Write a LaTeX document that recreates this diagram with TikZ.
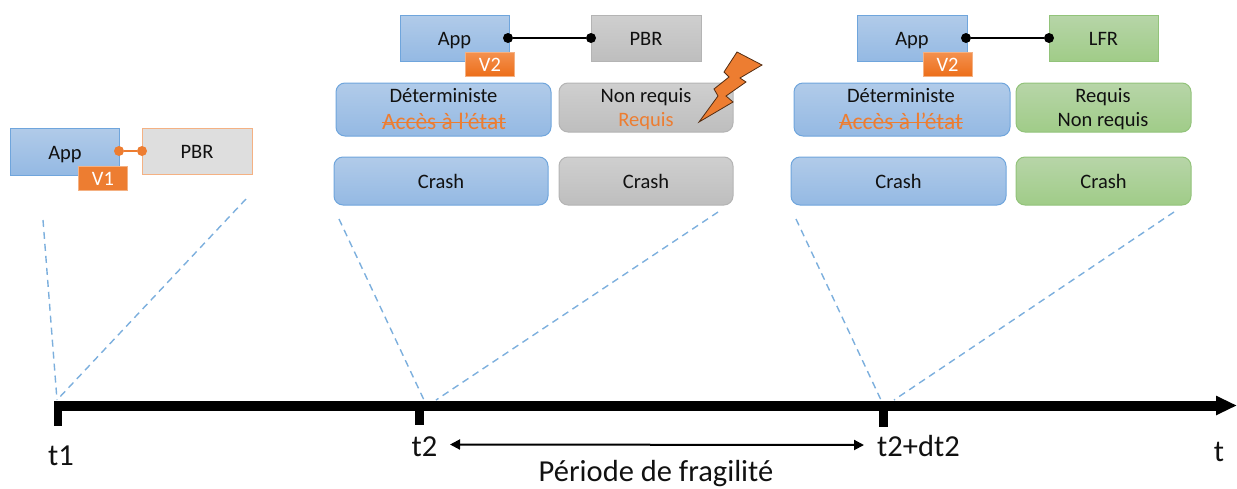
\documentclass[tikz,border=0pt]{standalone}
\usepackage{fontspec}
\setmainfont{Carlito}
\usetikzlibrary{arrows.meta}
\definecolor{bluetop}{HTML}{B1CBE9}
\definecolor{bluebot}{HTML}{94B9E3}
\definecolor{blueline}{HTML}{6FA5DC}
\definecolor{greytop}{HTML}{CFCFCF}
\definecolor{greybot}{HTML}{BEBEBE}
\definecolor{greyline}{HTML}{B4B4B4}
\definecolor{greentop}{HTML}{B7D5A8}
\definecolor{greenbot}{HTML}{A0CC88}
\definecolor{greenline}{HTML}{92C37A}
\definecolor{orangec}{HTML}{ED7D31}
\definecolor{orangetop}{HTML}{F4914F}
\definecolor{orangebot}{HTML}{EC6F1B}
\definecolor{orangeedge}{HTML}{F4B183}
\definecolor{txt}{HTML}{111111}
\definecolor{dashblue}{HTML}{5B9BD5}
\newcommand{\strikeorange}[1]{\begingroup\setbox0=\hbox{#1}\rlap{\rule[0.25em]{\wd0}{1.4pt}}\box0\endgroup}
\tikzset{
  x=1pt,y=-1pt,
  every node/.style={font=\fontsize{20.5}{24}\selectfont,text=txt,inner sep=0pt,outer sep=0pt},
  sized/.style n args={2}{minimum width=#1,minimum height=#2},
  label box/.style={text height=16.4pt,text depth=1.1pt},
  bluebox/.style={label box,draw=blueline,line width=1pt,top color=bluetop,bottom color=bluebot},
  greybox/.style={label box,draw=greyline,line width=1pt,top color=greytop,bottom color=greybot},
  greenbox/.style={label box,draw=greenline,line width=1pt,top color=greentop,bottom color=greenbot},
  rnd/.style={rounded corners=9pt},
  vtag/.style={label box,draw=orangeedge,line width=1pt,top color=orangetop,bottom color=orangebot,text=white,sized={49pt}{24pt}},
  dot/.style={circle,fill=black,minimum size=10pt},
  odot/.style={circle,fill=orangec,minimum size=10pt},
  link/.style={line width=1.3pt,draw=black},
  projection/.style={draw=dashblue,line width=1.4pt,dash pattern=on 7pt off 5pt,opacity=.8},
  tick/.style={fill=black,draw=none,inner sep=0pt},
  big/.style={font=\fontsize{30.5}{34}\selectfont,anchor=base},
  line1/.style={anchor=base},
  strucktext/.style={anchor=base,text=orangec,font=\fontsize{23.5}{26}\selectfont},
}
\begin{document}
\begin{tikzpicture}
\useasboundingbox (0,0) rectangle (1237,488);

% timeline
\coordinate (axisstart) at (54,405.5);
\coordinate (axisend) at (1237,405.5);
\draw[line width=10pt,-{Triangle[length=21pt,width=18pt]}] (axisstart) -- (axisend);
\node[tick,sized={8.5pt}{25pt}] (tick1) at (58,413.5) {};
\node[tick,sized={9pt}{24pt}] (tick2) at (419.5,413) {};
\node[tick,sized={9pt}{26pt}] (tick3) at (883.5,414) {};

% projection anchors
\coordinate (p1a) at (43,220);
\coordinate (p1b) at (246,199);
\coordinate (p1c) at (57,400);
\coordinate (p2a) at (339,219);
\coordinate (p2b) at (718,212);
\coordinate (p2c) at (424,400);
\coordinate (p2d) at (436,400);
\coordinate (p3a) at (796,219);
\coordinate (p3b) at (1174,212);
\coordinate (p3c) at (881,400);
\coordinate (p3d) at (894,400);
\draw[projection] (p1a) -- (p1c);
\draw[projection] (p1b) -- (p1c);
\draw[projection] (p2a) -- (p2c);
\draw[projection] (p2b) -- (p2d);
\draw[projection] (p3a) -- (p3c);
\draw[projection] (p3b) -- (p3d);

% state t1
\node[bluebox,sized={109.5pt}{47pt}] (app1) at (65,151.5) {App};
\node[label box,draw=orangeedge,line width=1pt,fill=black!13!white,sized={110pt}{46pt}] (pbr1) at (197,151) {PBR};
\node[odot] (d1a) at (119,151) {};
\node[odot] (d1b) at (142,151) {};
\draw[line width=1.3pt,draw=orangec] (d1a) -- (d1b);
\node[vtag,top color=orangec,bottom color=orangec] (v1) at (103,178) {V1};

% state t2
\node[bluebox,sized={109pt}{46pt}] (app2) at (454.5,38) {App};
\node[greybox,sized={110pt}{46pt}] (pbr2) at (646,38) {PBR};
\node[dot] (d2a) at (508,38) {};
\node[dot] (d2b) at (591,38) {};
\draw[link] (d2a) -- (d2b);
\node[vtag] (v2) at (490,64) {V2};
\node[bluebox,rnd,sized={215pt}{53pt}] (det2) at (443.5,109.5) {};
\node[line1] (det2a) at (443.5,102.5) {Déterministe};
\node[strucktext] (det2b) at (444,129) {\strikeorange{Accès à l’état}};
\node[greybox,rnd,sized={174pt}{49pt}] (req2) at (646,107.5) {};
\node[line1] (req2a) at (646,102.5) {Non requis};
\node[line1,text=orangec] (req2b) at (646,126) {Requis};
\node[bluebox,rnd,sized={214pt}{48pt}] (crash2a) at (441,181) {Crash};
\node[greybox,rnd,sized={174pt}{48pt}] (crash2b) at (646,181) {Crash};

% state t2+dt2
\node[bluebox,sized={110pt}{46pt}] (app3) at (912,38) {App};
\node[greenbox,sized={109pt}{46pt}] (lfr3) at (1103.5,38) {LFR};
\node[dot] (d3a) at (966,38) {};
\node[dot] (d3b) at (1049,38) {};
\draw[link] (d3a) -- (d3b);
\node[vtag] (v3) at (947.5,64) {V2};
\node[bluebox,rnd,sized={216pt}{53pt}] (det3) at (902,109.5) {};
\node[line1] (det3a) at (901,102.5) {Déterministe};
\node[strucktext] (det3b) at (901,129) {\strikeorange{Accès à l’état}};
\node[greenbox,rnd,sized={175pt}{49pt}] (req3) at (1103.5,107.5) {};
\node[line1] (req3a) at (1103,102.5) {Requis};
\node[line1] (req3b) at (1103,126.5) {Non requis};
\node[bluebox,rnd,sized={215pt}{48pt}] (crash3a) at (898.5,181) {Crash};
\node[greenbox,rnd,sized={175pt}{48pt}] (crash3b) at (1103.5,181) {Crash};

% lightning
\draw[fill=orangec,draw=black!65!orangec,line width=.8pt,line join=miter]
  (737,52) -- (762,65) -- (740,78) -- (746,82) -- (726,96) -- (733,102) -- (699,122)
  -- (718,96) -- (714,89) -- (729,77) -- (724,72) -- cycle;

% labels
\node[big] (l1) at (61,465) {t1};
\node[big] (l2) at (424.5,456) {t2};
\node[big] (l3) at (918.5,456) {t2+dt2};
\node[big] (l4) at (1219,461) {t};
\node[big] (l5) at (656,481) {Période de fragilité};
\coordinate (spanl) at (450,444.5);
\coordinate (spanr) at (864,445);
\draw[line width=2pt,{Triangle[length=10pt,width=10pt]}-{Triangle[length=10pt,width=10pt]}] (spanl) -- (spanr);
\end{tikzpicture}
\end{document}
